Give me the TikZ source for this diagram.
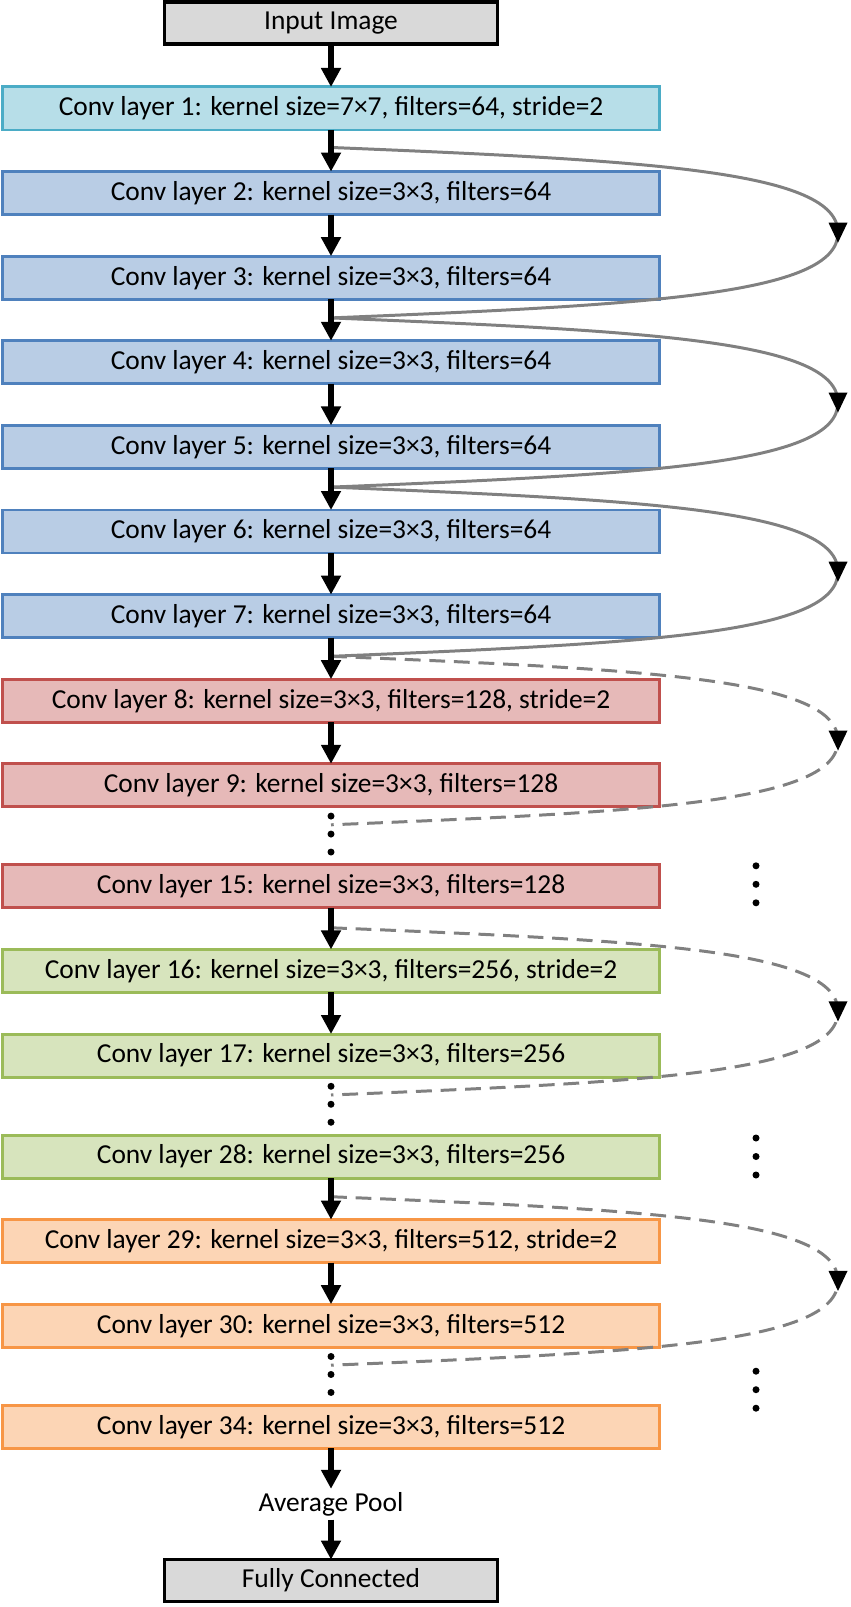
\documentclass[tikz,border=0pt]{standalone}
\usepackage{fontspec}
\setmainfont{Carlito}
\definecolor{ioFill}{RGB}{217, 217, 217}
\definecolor{stemFill}{RGB}{183, 222, 232}
\definecolor{stemLine}{RGB}{75, 172, 198}
\definecolor{stageAFill}{RGB}{185, 205, 229}
\definecolor{stageALine}{RGB}{79, 129, 189}
\definecolor{stageBFill}{RGB}{230, 185, 184}
\definecolor{stageBLine}{RGB}{192, 80, 77}
\definecolor{stageCFill}{RGB}{215, 228, 189}
\definecolor{stageCLine}{RGB}{155, 187, 89}
\definecolor{stageDFill}{RGB}{252, 213, 181}
\definecolor{stageDLine}{RGB}{247, 150, 70}
\definecolor{skipGray}{RGB}{128, 128, 128}
\usetikzlibrary{arrows.meta, positioning, calc, decorations.markings}

\begin{document}
\begin{tikzpicture}[
                font=\fontsize{15.6}{18}\selectfont,
                every node/.style={align=center, outer sep=0pt},
                io/.style={rectangle, draw=black, line width=1.8pt, fill=ioFill, minimum width=6.66cm, minimum height=0.84cm, inner sep=0pt},
                layer/.style={rectangle, line width=1.7pt, minimum width=13.14cm, minimum height=0.86cm, inner sep=0pt},
                stem/.style={layer, draw=stemLine, fill=stemFill},
                stageA/.style={layer, draw=stageALine, fill=stageAFill},
                stageB/.style={layer, draw=stageBLine, fill=stageBFill},
                stageC/.style={layer, draw=stageCLine, fill=stageCFill},
                stageD/.style={layer, draw=stageDLine, fill=stageDFill},
                flow/.style={line width=3.4pt, -{Triangle[width=0.38cm, length=0.38cm]}},
                skipsolid/.style={draw=skipGray, line width=1.7pt},
                skipdash/.style={skipsolid, dash pattern=on 9pt off 5pt},
                skiphead/.style={postaction={decorate, decoration={markings,
                    mark=at position 0.5 with {\fill[black] (0.2,0) -- (-0.2,0.19) -- (-0.2,-0.19) -- cycle;}}}},
                vdots/.style={fill=black}
            ]
                \useasboundingbox (0,0) rectangle (17,-32.14);

                \node[io] (in) at (6.62,-0.46) {Input Image};
                \node[stem] (c1) [below=0.86cm of in] {Conv layer 1: kernel size=7×7, filters=64, stride=2};
                \node[stageA] (c2) [below=0.832cm of c1] {Conv layer 2: kernel size=3×3, filters=64};
                \node[stageA] (c3) [below=0.832cm of c2] {Conv layer 3: kernel size=3×3, filters=64};
                \node[stageA] (c4) [below=0.832cm of c3] {Conv layer 4: kernel size=3×3, filters=64};
                \node[stageA] (c5) [below=0.832cm of c4] {Conv layer 5: kernel size=3×3, filters=64};
                \node[stageA] (c6) [below=0.832cm of c5] {Conv layer 6: kernel size=3×3, filters=64};
                \node[stageA] (c7) [below=0.832cm of c6] {Conv layer 7: kernel size=3×3, filters=64};
                \node[stageB] (c8) [below=0.832cm of c7] {Conv layer 8: kernel size=3×3, filters=128, stride=2};
                \node[stageB] (c9) [below=0.832cm of c8] {Conv layer 9: kernel size=3×3, filters=128};
                \node[stageB] (c15) [below=1.16cm of c9] {Conv layer 15: kernel size=3×3, filters=128};
                \node[stageC] (c16) [below=0.832cm of c15] {Conv layer 16: kernel size=3×3, filters=256, stride=2};
                \node[stageC] (c17) [below=0.832cm of c16] {Conv layer 17: kernel size=3×3, filters=256};
                \node[stageC] (c28) [below=1.16cm of c17] {Conv layer 28: kernel size=3×3, filters=256};
                \node[stageD] (c29) [below=0.832cm of c28] {Conv layer 29: kernel size=3×3, filters=512, stride=2};
                \node[stageD] (c30) [below=0.832cm of c29] {Conv layer 30: kernel size=3×3, filters=512};
                \node[stageD] (c34) [below=1.16cm of c30] {Conv layer 34: kernel size=3×3, filters=512};
                \node[inner sep=2pt] (pool) at ($(c34.south)+(0,-1.12)$) {Average Pool};
                \node[io] (fc) [below=0.8cm of pool] {Fully Connected};

                % shortcut joints
                \coordinate (j1) at ($(c1.south)!0.42!(c2.north)$);
                \coordinate (j3) at ($(c3.south)!0.45!(c4.north)$);
                \coordinate (j5) at ($(c5.south)!0.45!(c6.north)$);
                \coordinate (j7) at ($(c7.south)!0.45!(c8.north)$);
                \coordinate (j15) at ($(c15.south)!0.48!(c16.north)$);
                \coordinate (j28) at ($(c28.south)!0.45!(c29.north)$);
                \coordinate (e9) at ($(c9.south)+(0,-0.36)$);
                \coordinate (e17) at ($(c17.south)+(0,-0.36)$);
                \coordinate (e30) at ($(c30.south)+(0,-0.36)$);

                \foreach \a/\b/\s in {j1/j3/skipsolid, j3/j5/skipsolid, j5/j7/skipsolid,
                                      j7/e9/skipdash, j15/e17/skipdash, j28/e30/skipdash}
                    \draw[\s, skiphead] (\a) .. controls +(6.36,-0.26) and +(0,1.24) .. ($(\a)!0.5!(\b)+(10.14,0)$)
                        .. controls +(0,-1.24) and +(6.36,0.26) .. (\b);

                % main path
                \foreach \a/\b in {in/c1, c1/c2, c2/c3, c3/c4, c4/c5, c5/c6, c6/c7, c7/c8, c8/c9,
                                   c15/c16, c16/c17, c28/c29, c29/c30, c34/pool, pool/fc}
                    \draw[flow] (\a.south) -- (\b.north);

                % skipped layers
                \foreach \a/\b in {c9/c15, c17/c28, c30/c34}
                    \foreach \f in {0.16, 0.47, 0.78}
                        \fill[vdots] ($(\a.south)!\f!(\b.north)$) circle (0.07);
                \foreach \n/\dy in {c15/0.04, c28/0, c34/0.74}
                    \foreach \k in {-1, 0, 1}
                        \fill[vdots] ($(\n.center)+(8.5,\dy-0.37*\k)$) circle (0.07);
            \end{tikzpicture}
\end{document}
